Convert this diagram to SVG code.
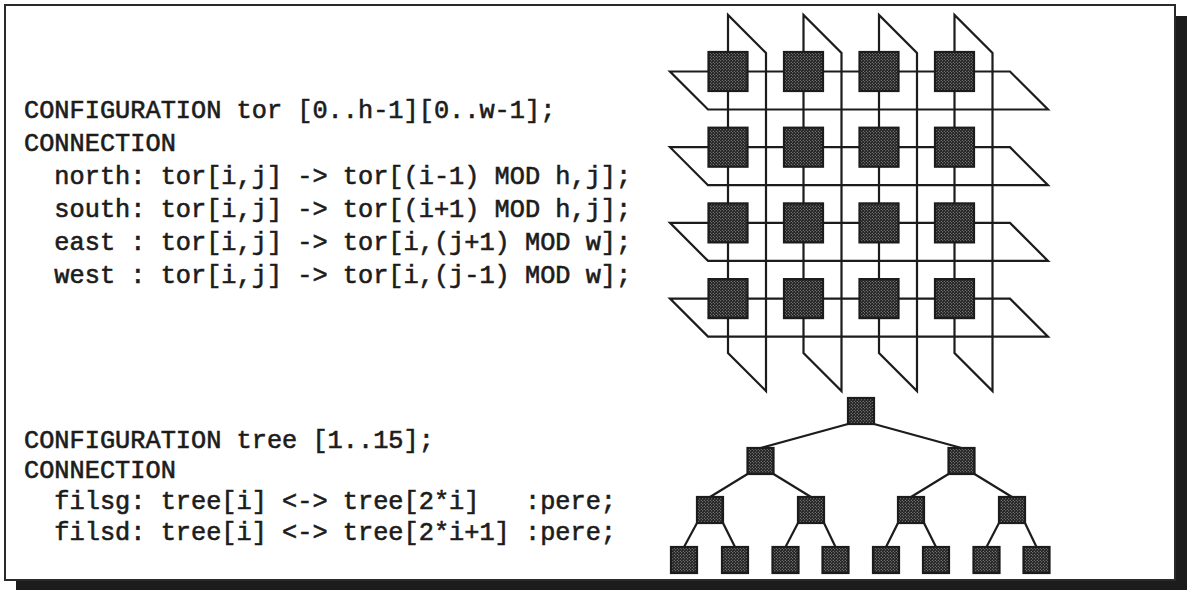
<svg xmlns="http://www.w3.org/2000/svg" width="1187" height="590" viewBox="0 0 1187 590">
  <style>
    .code { font-family: "Liberation Mono", "DejaVu Sans Mono", monospace; font-size: 25.3px; fill: #1c1c1c; stroke: #1c1c1c; stroke-width: 0.6; white-space: pre; }
    .wire { fill: none; stroke: #1c1c1c; stroke-width: 2.2; stroke-linejoin: miter; }
    .edge { stroke: #1c1c1c; stroke-width: 2.2; }
    .pe { fill: url(#dots); stroke: #1c1c1c; stroke-width: 2.2; }
  </style>
  <defs>
    <!-- halftone fill for processor cells -->
    <pattern id="dots" width="3" height="3" patternUnits="userSpaceOnUse">
      <rect width="3" height="3" fill="#202020"/>
      <circle cx="0.75" cy="0.75" r="0.5" fill="#c0c0c0"/>
      <circle cx="2.25" cy="2.25" r="0.5" fill="#c0c0c0"/>
    </pattern>
  </defs>

  <!-- page frame with drop shadow -->
  <rect x="16" y="16" width="1171" height="574" fill="#1c1c1c"/>
  <rect x="5" y="5" width="1170" height="575" fill="#ffffff" stroke="#2a2a2a" stroke-width="2"/>

  <!-- program text -->
  <g id="code-torus">
    <text class="code" x="24" y="118" xml:space="preserve">CONFIGURATION tor [0..h-1][0..w-1];</text>
    <text class="code" x="24" y="151" xml:space="preserve">CONNECTION</text>
    <text class="code" x="24" y="184" xml:space="preserve">  north: tor[i,j] -&gt; tor[(i-1) MOD h,j];</text>
    <text class="code" x="24" y="217" xml:space="preserve">  south: tor[i,j] -&gt; tor[(i+1) MOD h,j];</text>
    <text class="code" x="24" y="250" xml:space="preserve">  east : tor[i,j] -&gt; tor[i,(j+1) MOD w];</text>
    <text class="code" x="24" y="283" xml:space="preserve">  west : tor[i,j] -&gt; tor[i,(j-1) MOD w];</text>
  </g>
  <g id="code-tree">
    <text class="code" x="24" y="448" xml:space="preserve">CONFIGURATION tree [1..15];</text>
    <text class="code" x="24" y="478" xml:space="preserve">CONNECTION</text>
    <text class="code" x="24" y="509" xml:space="preserve">  filsg: tree[i] &lt;-&gt; tree[2*i]   :pere;</text>
    <text class="code" x="24" y="540" xml:space="preserve">  filsd: tree[i] &lt;-&gt; tree[2*i+1] :pere;</text>
  </g>

  <!-- torus wrap-around links -->
  <g id="torus-links">
    <polygon class="wire" points="670,71.5 1010,71.5 1048,109.5 708,109.5"/>
    <polygon class="wire" points="670,147.2 1010,147.2 1048,185.2 708,185.2"/>
    <polygon class="wire" points="670,222.9 1010,222.9 1048,260.9 708,260.9"/>
    <polygon class="wire" points="670,298.6 1010,298.6 1048,336.6 708,336.6"/>
    <polygon class="wire" points="728,15 728,353 766,391 766,53"/>
    <polygon class="wire" points="803.5,15 803.5,353 841.5,391 841.5,53"/>
    <polygon class="wire" points="879,15 879,353 917,391 917,53"/>
    <polygon class="wire" points="954.5,15 954.5,353 992.5,391 992.5,53"/>
  </g>

  <!-- torus processors -->
  <g id="torus-nodes">
    <rect id="tor-0-0" class="pe" x="708.5" y="52" width="39" height="39"/>
    <rect id="tor-0-1" class="pe" x="784" y="52" width="39" height="39"/>
    <rect id="tor-0-2" class="pe" x="859.5" y="52" width="39" height="39"/>
    <rect id="tor-0-3" class="pe" x="935" y="52" width="39" height="39"/>
    <rect id="tor-1-0" class="pe" x="708.5" y="127.7" width="39" height="39"/>
    <rect id="tor-1-1" class="pe" x="784" y="127.7" width="39" height="39"/>
    <rect id="tor-1-2" class="pe" x="859.5" y="127.7" width="39" height="39"/>
    <rect id="tor-1-3" class="pe" x="935" y="127.7" width="39" height="39"/>
    <rect id="tor-2-0" class="pe" x="708.5" y="203.4" width="39" height="39"/>
    <rect id="tor-2-1" class="pe" x="784" y="203.4" width="39" height="39"/>
    <rect id="tor-2-2" class="pe" x="859.5" y="203.4" width="39" height="39"/>
    <rect id="tor-2-3" class="pe" x="935" y="203.4" width="39" height="39"/>
    <rect id="tor-3-0" class="pe" x="708.5" y="279.1" width="39" height="39"/>
    <rect id="tor-3-1" class="pe" x="784" y="279.1" width="39" height="39"/>
    <rect id="tor-3-2" class="pe" x="859.5" y="279.1" width="39" height="39"/>
    <rect id="tor-3-3" class="pe" x="935" y="279.1" width="39" height="39"/>
  </g>

  <!-- tree links: parent bottom corner to child top centre -->
  <g id="tree-links">
    <line class="edge" x1="848" y1="424" x2="760.5" y2="448"/>
    <line class="edge" x1="874" y1="424" x2="961.5" y2="448"/>
    <line class="edge" x1="747.5" y1="474" x2="710" y2="497"/>
    <line class="edge" x1="773.5" y1="474" x2="811" y2="497"/>
    <line class="edge" x1="948.5" y1="474" x2="911" y2="497"/>
    <line class="edge" x1="974.5" y1="474" x2="1012" y2="497"/>
    <line class="edge" x1="697" y1="523" x2="684" y2="547"/>
    <line class="edge" x1="723" y1="523" x2="735" y2="547"/>
    <line class="edge" x1="798" y1="523" x2="785.5" y2="547"/>
    <line class="edge" x1="824" y1="523" x2="835.5" y2="547"/>
    <line class="edge" x1="898" y1="523" x2="886" y2="547"/>
    <line class="edge" x1="924" y1="523" x2="936" y2="547"/>
    <line class="edge" x1="999" y1="523" x2="986.5" y2="547"/>
    <line class="edge" x1="1025" y1="523" x2="1036.5" y2="547"/>
  </g>

  <!-- tree processors -->
  <g id="tree-nodes">
    <rect id="tree-1" class="pe" x="848" y="398" width="26" height="26"/>
    <rect id="tree-2" class="pe" x="747.5" y="448" width="26" height="26"/>
    <rect id="tree-3" class="pe" x="948.5" y="448" width="26" height="26"/>
    <rect id="tree-4" class="pe" x="697" y="497" width="26" height="26"/>
    <rect id="tree-5" class="pe" x="798" y="497" width="26" height="26"/>
    <rect id="tree-6" class="pe" x="898" y="497" width="26" height="26"/>
    <rect id="tree-7" class="pe" x="999" y="497" width="26" height="26"/>
    <rect id="tree-8" class="pe" x="671" y="547" width="26" height="26"/>
    <rect id="tree-9" class="pe" x="722" y="547" width="26" height="26"/>
    <rect id="tree-10" class="pe" x="772.5" y="547" width="26" height="26"/>
    <rect id="tree-11" class="pe" x="822.5" y="547" width="26" height="26"/>
    <rect id="tree-12" class="pe" x="873" y="547" width="26" height="26"/>
    <rect id="tree-13" class="pe" x="923" y="547" width="26" height="26"/>
    <rect id="tree-14" class="pe" x="973.5" y="547" width="26" height="26"/>
    <rect id="tree-15" class="pe" x="1023.5" y="547" width="26" height="26"/>
  </g>
</svg>
